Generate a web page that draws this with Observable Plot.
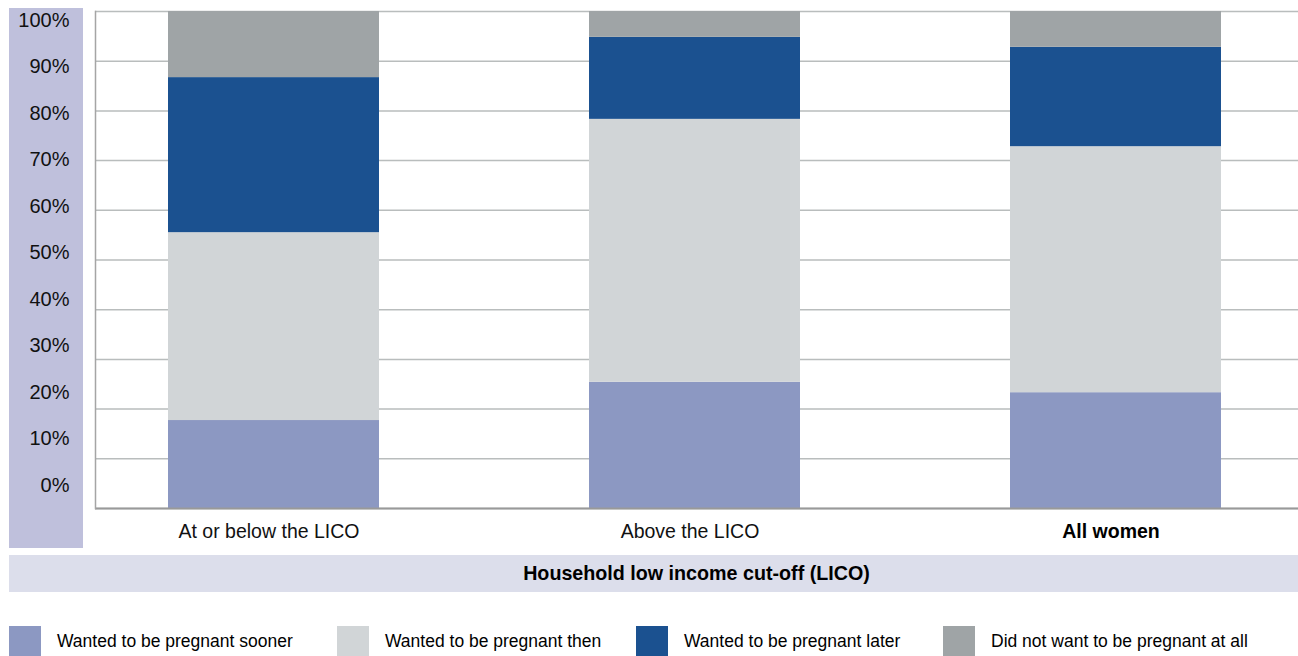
<!DOCTYPE html>
<html>
<head>
<meta charset="utf-8">
<script src="https://cdn.jsdelivr.net/npm/d3@7"></script>
<script src="https://cdn.jsdelivr.net/npm/@observablehq/plot@0.6"></script>
<style>
  html, body { margin: 0; padding: 0; background: #fff; }
  body { width: 1298px; height: 656px; position: relative; overflow: hidden;
         font-family: "Liberation Sans", Arial, Helvetica, sans-serif; color: #000; }
  #ypanel { position: absolute; left: 9px; top: 8px; width: 74px; height: 540px; background: #bfc0dc; }
  #main { position: absolute; left: 0; top: 0; }
  #band { position: absolute; left: 9px; top: 555px; width: 1289px; height: 37px; background: #dcdeeb;
          box-sizing: border-box; padding-left: 86px; text-align: center; line-height: 37px;
          font-weight: bold; font-size: 19.7px; }
  .lg { position: absolute; top: 626px; height: 31px; display: flex; align-items: center; font-size: 17.5px; white-space: nowrap; }
  .lg .sw { width: 32px; height: 31px; margin-right: 16px; flex: none; }
</style>
</head>
<body>
<div id="ypanel"></div>
<div id="main"></div>
<div id="band"></div>
<div id="legend"></div>
<script>
// ---- data ----
const categories = ["At or below the LICO", "Above the LICO", "All women"];
const seriesNames = [
  "Wanted to be pregnant sooner",
  "Wanted to be pregnant then",
  "Wanted to be pregnant later",
  "Did not want to be pregnant at all"
];
const sooner = [17.7, 25.4, 23.3];
const then_ = [37.8, 52.9, 49.5];
const later = [31.2, 16.5, 20.0];
const notAtAll = [13.3, 5.2, 7.2];
const yTicks = [0, 10, 20, 30, 40, 50, 60, 70, 80, 90, 100];
const xTitle = "Household low income cut-off (LICO)";
const colors = ["#8c98c2", "#d1d5d7", "#1b5190", "#9fa4a6"];

const seriesValues = [sooner, then_, later, notAtAll];
const rows = [];
categories.forEach((c, i) => {
  seriesNames.forEach((s, j) => rows.push({category: c, series: s, value: seriesValues[j][i]}));
});

// ---- y label panel (separate, as in the original table-like label column) ----
const yPanel = Plot.plot({
  width: 74, height: 540,
  marginLeft: 60, marginRight: 14, marginTop: 12, marginBottom: 63,
  style: {background: "transparent", fontFamily: "Liberation Sans, Arial, sans-serif", fontSize: "20px", color: "#000"},
  x: {axis: null},
  y: {domain: [0, 100], ticks: yTicks},
  marks: [
    Plot.axisY(yTicks, {tickSize: 0, tickPadding: 0, tickFormat: d => d + "%", label: null, fill: "#111"})
  ]
});
document.getElementById("ypanel").appendChild(yPanel);

// ---- main chart ----
const chart = Plot.plot({
  width: 1298, height: 550,
  marginLeft: 95, marginRight: 0, marginTop: 11, marginBottom: 42,
  style: {background: "transparent", fontFamily: "Liberation Sans, Arial, sans-serif", fontSize: "19.5px", color: "#000"},
  x: {domain: categories, range: [61.75, 1326.25], paddingInner: 0.5, paddingOuter: 0.25, label: null},
  y: {domain: [0, 100], label: null, axis: null},
  color: {domain: seriesNames, range: colors},
  marks: [
    Plot.gridY(yTicks, {stroke: "#b9bdbd", strokeOpacity: 1, strokeWidth: 1.5}),
    Plot.barY(rows, {x: "category", y: "value", fill: "series", order: seriesNames}),
    Plot.ruleY([0], {stroke: "#999", strokeWidth: 2}),
    Plot.frame({anchor: "left", stroke: "#a5a5a5", strokeWidth: 1.5}),
    Plot.axisX(categories.slice(0, 2), {tickSize: 0, tickPadding: 16, dx: -5, label: null, fill: "#111"}),
    Plot.axisX(categories.slice(2), {tickSize: 0, tickPadding: 16, dx: -5, label: null, fontWeight: "bold", fill: "#000"})
  ]
});
document.getElementById("main").appendChild(chart);

// ---- axis title band ----
document.getElementById("band").textContent = xTitle;

// ---- legend ----
const legendLeft = [9, 337, 636, 943];
const legend = document.getElementById("legend");
seriesNames.forEach((s, i) => {
  const item = document.createElement("div");
  item.className = "lg";
  item.style.left = legendLeft[i] + "px";
  const sw = document.createElement("div");
  sw.className = "sw";
  sw.style.background = colors[i];
  const t = document.createElement("span");
  t.textContent = s;
  item.appendChild(sw);
  item.appendChild(t);
  legend.appendChild(item);
});
</script>
</body>
</html>
